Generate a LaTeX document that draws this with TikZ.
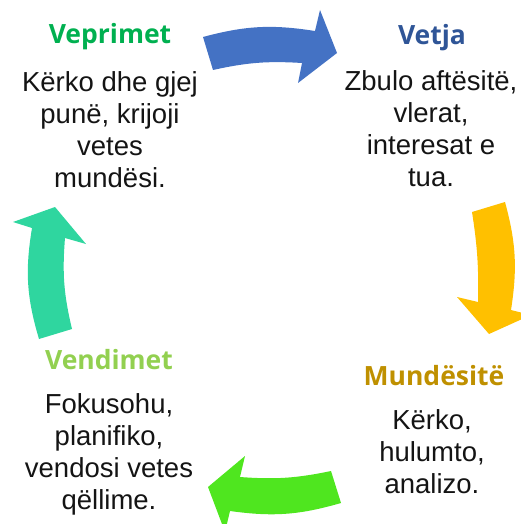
\documentclass[tikz,border=0pt]{standalone}
\usepackage{fontspec}
\setmainfont{Liberation Sans}
\newfontfamily\headfont{Open Sans}
\definecolor{hgreen}{HTML}{00B050}
\definecolor{hblue}{HTML}{2F5597}
\definecolor{hgold}{HTML}{BF9000}
\definecolor{hlime}{HTML}{92D050}
\definecolor{ablue}{HTML}{4472C4}
\definecolor{agold}{HTML}{FFC000}
\definecolor{agreen}{HTML}{4FE61F}
\definecolor{ateal}{HTML}{2FD69F}
\begin{document}
\begin{tikzpicture}[x=1pt,y=-1pt,
  body/.style={align=center, inner sep=0pt, text=black!92, font=\fontsize{27.5}{32}\selectfont},
  head/.style={inner sep=0pt, font=\headfont\bfseries\fontsize{26.5}{30}\selectfont}]
\useasboundingbox (0,0) rectangle (521,524);
\clip (0,0) rectangle (521,524);
% arrows
\fill[ablue] (203,37) to[bend left=12] (315,31) -- (320,10) -- (337,53) -- (298,83) -- (302,63) to[bend right=8] (213,70) -- cycle;
\fill[agold] (472,212) -- (505,202) to[bend left=12] (511,310) -- (531,315) -- (489,334) -- (457,297) -- (478,302) to[bend right=5] cycle;
\fill[agreen] (331,471) to[bend left=8] (240,477) -- (245,456) -- (208,487) -- (225,532) -- (230,511) to[bend right=12] (341,503) -- cycle;
\fill[ateal] (72,329) to[bend left=9] (65,238) -- (86,244) -- (55,207) -- (13,222) -- (32,228) to[bend right=13] (39,339) -- cycle;
% texts (body nodes anchored at the baseline of their last line)
\node[head, text=hgreen, anchor=base] (h1) at (110,44) {Veprimet};
\node[body, anchor=base] (b1) at (110,187) {Kërko dhe gjej\\punë, krijoji\\vetes\\mundësi.};
\node[head, text=hblue, anchor=base] (h2) at (432,45) {Vetja};
\node[body, anchor=base] (b2) at (431,186) {Zbulo aftësitë,\\vlerat,\\interesat e\\tua.};
\node[head, text=hgold, anchor=base] (h3) at (434,385) {Mundësitë};
\node[body, anchor=base] (b3) at (432,493) {Kërko,\\hulumto,\\analizo.};
\node[head, text=hlime, anchor=base] (h4) at (109,369) {Vendimet};
\node[body, anchor=base] (b4) at (109,509) {Fokusohu,\\planifiko,\\vendosi vetes\\qëllime.};
\end{tikzpicture}
\end{document}
